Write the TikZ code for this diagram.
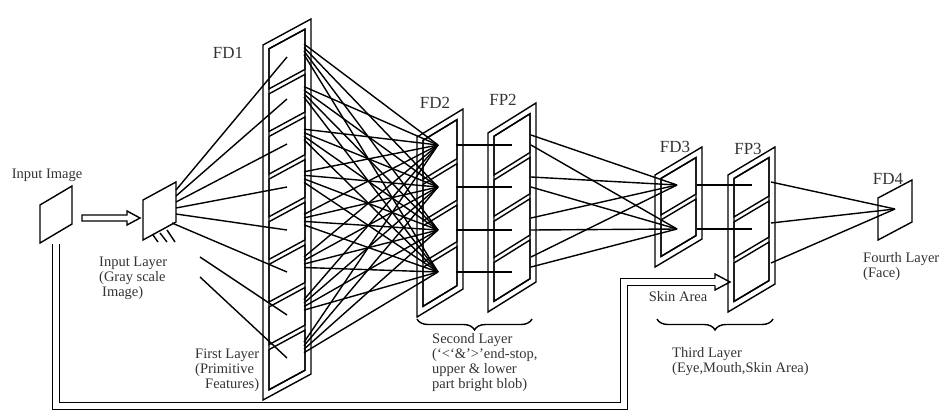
\documentclass[tikz,border=0pt]{standalone}
\usepackage{fontspec}
\setmainfont{Liberation Serif}
\usetikzlibrary{decorations.pathreplacing}

\tikzset{
  wire/.style={line width=1.4pt},
  lbl/.style={font=\fontsize{14.5}{15}\selectfont, text=black!80, inner sep=0pt},
  tag/.style={font=\fontsize{17}{17}\selectfont, text=black!80, inner sep=0pt},
  note/.style={lbl, align=left, anchor=north west},
  feed/.style={line width=1.4pt, double distance=5.5pt},
  curly/.style={line width=1.4pt, decorate, decoration={brace, mirror, amplitude=11pt}},
}

% layer plate: double rim and a column of cells
% #1 x, #2 y of top left, #3 width, #4 rise, #5 height, #6 cells
\newcommand{\layerplate}[6]{%
  \begin{scope}[shift={(#1,#2)}, x={(#3pt,#4pt)}, y={(0pt,-#5pt)}]
    \pgfmathsetmacro{\du}{6/#3}
    \pgfmathsetmacro{\dv}{7/#5}
    \pgfmathsetmacro{\ch}{(1-2*\dv)/#6}
    \pgfmathsetmacro{\gh}{2.5/#5}
    \draw[wire] (0,0) -- (1,0) -- (1,1) -- (0,1) -- cycle;
    \draw[wire] (\du,\dv) -- (1-\du,\dv) -- (1-\du,1-\dv) -- (\du,1-\dv) -- cycle;
    \foreach \i in {1,...,#6}{
      \pgfmathsetmacro{\ta}{\dv+(\i-1)*\ch+\gh*(\i>1)}
      \pgfmathsetmacro{\tb}{\dv+\i*\ch-\gh*(\i<#6)}
      \draw[wire] (\du,\ta) -- (1-\du,\ta) -- (1-\du,\tb) -- (\du,\tb) -- cycle;
    }
  \end{scope}}

\begin{document}
\begin{tikzpicture}[x=1pt,y=-1pt]
  \useasboundingbox (0,0) rectangle (941,410);

  % Input image and input layer
  \draw[wire] (40,205) -- (72,186) -- (72,224) -- (40,243) -- cycle;
  \draw[wire] (143,200) -- (176,182) -- (176,222) -- (143,240) -- cycle;
  \draw[wire] (82,215) -- (127,215) -- (127,211) -- (140,218) -- (127,225) -- (127,221) -- (82,221) -- cycle;
  \node[lbl] (inimg) at (47,175) {Input Image};
  \node[note] (inlay) at (99,257) {Input Layer\\(Gray scale\\\hspace{3pt}Image)};

  % Plates
  \layerplate{263}{45}{48}{26}{355}{8}
  \layerplate{417}{137}{46}{28}{180}{4}
  \layerplate{488}{133}{48}{30}{179}{4}
  \layerplate{655}{175}{47}{28}{92}{2}
  \layerplate{728}{175}{47}{28}{137}{3}
  \draw[wire] (878,198) -- (912,180) -- (912,222) -- (878,240) -- cycle;

  \node[tag] (fd1) at (228,53) {FD1};
  \node[tag] (fd2) at (435,103) {FD2};
  \node[tag] (fp2) at (503,100) {FP2};
  \node[tag] (fd3) at (675,147) {FD3};
  \node[tag] (fp3) at (748,149) {FP3};
  \node[tag] (fd4) at (888,179) {FD4};

  % Input layer to FD1
  \foreach \y [count=\i] in {190,196,202,208,214} \coordinate (in\i) at (176,\y);
  \coordinate (in6) at (172,223);
  \coordinate (in7) at (200,257);
  \coordinate (in8) at (200,277);
  \foreach \y [count=\i] in {57,99,144,187,230,272,315,358} \coordinate (a\i) at (287,\y);
  \foreach \i in {1,...,8} \draw[wire] (in\i) -- (a\i);
  \draw[wire] (153,235) -- (158,242);
  \draw[wire] (160,233) -- (167,242);
  \draw[wire] (167,230) -- (175,242);

  % FD1 to FD2 to FP2
  \foreach \y [count=\j] in {145,187,230,272}{
    \coordinate (b\j) at (438,\y);
    \coordinate (b\j r) at (456,\y);
    \coordinate (p\j) at (512,\y);
    \draw[wire] (b\j r) -- (p\j);
  }
  \foreach \i in {1,...,8}
    \foreach \j in {1,...,4}{
      \coordinate (a\i o\j) at (304,{44+(\i-1)*42.6+(\j-1)*3.5});
      \draw[wire] (a\i o\j) -- (b\j);
    }

  % FP2 to FD3 to FP3
  \coordinate (d1) at (677,185);
  \coordinate (d2) at (677,229);
  \foreach \ya/\yb [count=\j] in {135/145,177/187,218/230,257/267}{
    \coordinate (p\j u) at (531,\ya);
    \coordinate (p\j l) at (531,\yb);
    \draw[wire] (p\j u) -- (d1);
    \draw[wire] (p\j l) -- (d2);
  }
  \foreach \y [count=\j] in {185,229}{
    \coordinate (d\j r) at (697,\y);
    \coordinate (q\j) at (752,\y);
    \draw[wire] (d\j r) -- (q\j);
  }

  % FP3 to FD4
  \coordinate (e) at (895,209);
  \foreach \y [count=\j] in {182,223,263}{
    \coordinate (q\j r) at (771,\y);
    \draw[wire] (q\j r) -- (e);
  }

  % Skin area feedback
  \coordinate (fb) at (56,244);
  \coordinate (sk) at (715,282);
  \draw[feed] (fb) |- (624,406) |- (sk);
  \draw[wire] (715,285.45) -- (715,290) -- (730,282) -- (715,274) -- (715,278.55);
  \node[lbl] (skin) at (678,297) {Skin Area};

  % Braces and layer names
  \draw[curly] (417,319) -- (532,319);
  \draw[curly] (657,319) -- (773,319);
  \node[note] (first) at (195,349) {First Layer\\(Primitive\\\hspace{10pt}Features)};
  \node[note] (second) at (432,333) {Second Layer\\(‘<‘\&’>’end-stop,\\upper \& lower\\part bright blob)};
  \node[note] (third) at (672,347) {Third Layer\\(Eye,Mouth,Skin Area)};
  \node[note] (fourth) at (863,252) {Fourth Layer\\(Face)};
\end{tikzpicture}
\end{document}
